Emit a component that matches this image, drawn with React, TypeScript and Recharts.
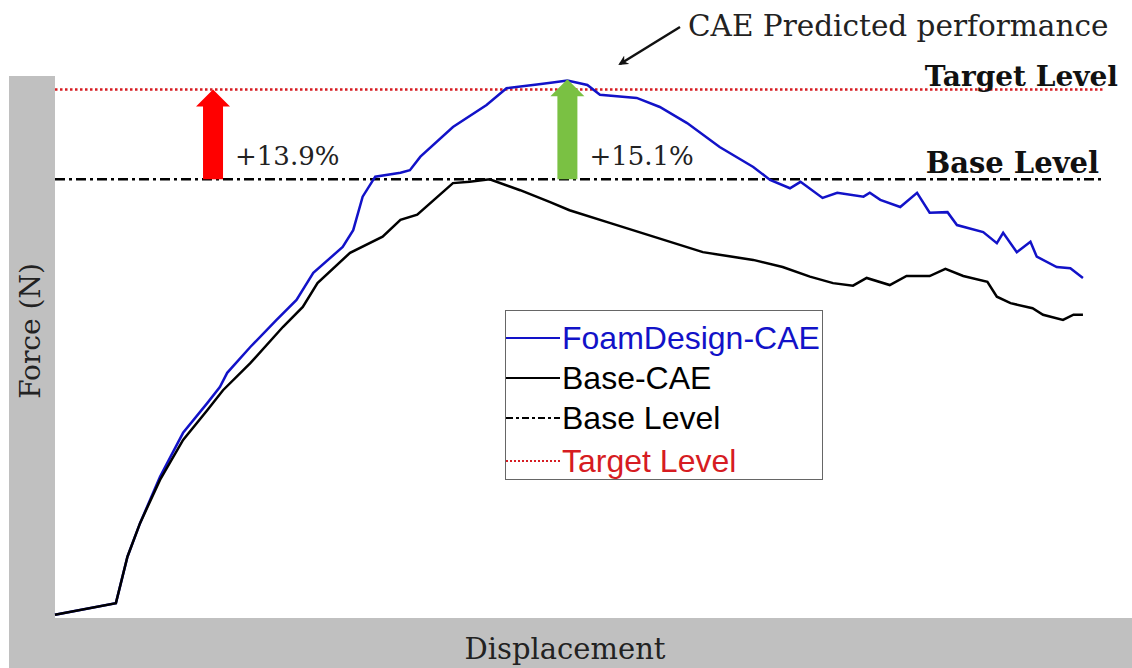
import { LineChart, Line, XAxis, YAxis, ReferenceLine, Legend } from "recharts";

// Base-CAE curve (displacement, force)
const baseDisp = [0, 5.8, 6.9, 8.1, 10.0, 12.2, 14.5, 16.0, 18.6, 21.7, 23.6, 25.0, 28.1, 31.2, 32.9, 34.5, 37.9, 39.5, 41.4, 44.3, 47.1, 49.0, 52.9, 57.0, 61.7, 66.5, 69.3, 71.9, 74.1, 76.0, 77.3, 79.5, 81.1, 83.3, 84.8, 86.5, 88.8, 89.7, 91.0, 93.1, 94.1, 96.0, 97.0, 97.9];
const baseForce = [32.5, 34.3, 41.5, 46.7, 53.4, 59.6, 64.2, 67.3, 71.5, 77.1, 80.2, 83.9, 88.6, 91.1, 93.7, 94.5, 99.4, 99.6, 100.0, 98.3, 96.5, 95.2, 93.2, 91.1, 88.7, 87.5, 86.4, 84.9, 83.9, 83.5, 84.7, 83.6, 85.0, 85.0, 86.1, 85.0, 84.1, 81.8, 80.8, 80.0, 79.0, 78.2, 79.0, 79.0];

// FoamDesign-CAE curve
const foamDisp = [0, 5.8, 6.9, 8.1, 10.0, 12.2, 14.5, 15.7, 16.4, 18.6, 21.1, 23.0, 24.6, 27.4, 28.4, 29.3, 30.5, 32.9, 33.8, 34.8, 37.9, 41.1, 43.0, 45.9, 47.4, 48.8, 50.7, 51.9, 55.4, 57.6, 60.2, 63.3, 66.5, 68.1, 70.0, 71.0, 73.1, 74.5, 77.0, 77.6, 78.6, 80.5, 82.1, 83.3, 85.0, 85.9, 88.4, 89.7, 90.3, 91.6, 92.9, 93.5, 95.4, 96.7, 97.9];
const foamForce = [32.5, 34.3, 41.5, 46.7, 53.9, 60.7, 65.3, 67.8, 70.0, 74.0, 78.2, 81.3, 85.5, 89.5, 92.1, 97.3, 100.4, 101.0, 101.4, 103.5, 108.1, 111.5, 114.1, 114.7, 115.0, 115.3, 114.6, 113.1, 112.6, 111.2, 108.7, 105.0, 101.9, 99.9, 98.6, 99.6, 97.1, 97.9, 97.3, 97.9, 96.8, 95.7, 97.9, 94.8, 94.9, 92.9, 91.8, 90.1, 91.7, 88.7, 90.3, 88.0, 86.4, 86.2, 84.7];

const baseLevel = 100;
const targetLevel = 113.9;

// improvement arrows: position, top value, label
const arrowX = [15.05, 48.8];
const arrowTop = [113.9, 115.5];
const arrowLabels = ["+13.9%", "+15.1%"];
const arrowColors = ["#ff0000", "#7ac143"];

const legendNames = ["FoamDesign-CAE", "Base-CAE", "Base Level", "Target Level"];

const BLUE = "#1212c8";
const RED = "#d61c22";
const SERIF = "'DejaVu Serif', serif";

const basePoints = baseDisp.map((x, i) => ({ x, y: baseForce[i] }));
const foamPoints = foamDisp.map((x, i) => ({ x, y: foamForce[i] }));

function ArrowShape(props: any) {
  const { x1, y1, x2, y2, color, text } = props;
  if (x1 == null) return null;
  const cx = (x1 + x2) / 2;
  const yb = Math.max(y1, y2);
  const yt = Math.min(y1, y2);
  const sw = 10;
  const hw = 17;
  const hh = 17;
  const pts = [
    [cx - sw, yb],
    [cx - sw, yt + hh],
    [cx - hw, yt + hh],
    [cx, yt],
    [cx + hw, yt + hh],
    [cx + sw, yt + hh],
    [cx + sw, yb],
  ]
    .map((p) => p.join(","))
    .join(" ");
  return (
    <g>
      <polygon points={pts} fill={color} />
      <text x={cx + 22} y={yb - 14} fontFamily={SERIF} fontSize={26} fill="#222">
        {text}
      </text>
    </g>
  );
}

function LegendSample({ idx }: { idx: number }) {
  const styles = [
    { stroke: BLUE, dash: undefined },
    { stroke: "#000", dash: undefined },
    { stroke: "#000", dash: "7 3 3 3" },
    { stroke: RED, dash: "2 2" },
  ];
  const s = styles[idx];
  return (
    <svg width={54} height={10} style={{ flex: "none" }}>
      <line x1={0} y1={5} x2={54} y2={5} stroke={s.stroke} strokeWidth={2} strokeDasharray={s.dash} />
    </svg>
  );
}

function renderLegend() {
  const textColors = [BLUE, "#000", "#000", RED];
  return (
    <div
      style={{
        width: 318,
        height: 170,
        border: "1.5px solid #666",
        background: "#fff",
        paddingTop: 7,
        boxSizing: "border-box",
        fontFamily: "'Liberation Sans', Arial, sans-serif",
        fontSize: 32,
      }}
    >
      {legendNames.map((n, i) => (
        <div key={n} style={{ display: "flex", alignItems: "center", height: 40, marginTop: i === 3 ? 3 : 0 }}>
          <LegendSample idx={i} />
          <span style={{ color: textColors[i], marginLeft: 2, lineHeight: "40px" }}>{n}</span>
        </div>
      ))}
    </div>
  );
}

export default function App() {
  return (
    <div style={{ position: "absolute", left: 0, top: 0, width: 1132, height: 668, background: "#fff", overflow: "hidden" }}>
      {/* gray axis bars */}
      <div style={{ position: "absolute", left: 9, top: 76, width: 46, height: 592, background: "#c0c0c0" }} />
      <div style={{ position: "absolute", left: 9, top: 618, width: 1123, height: 50, background: "#c0c0c0" }} />

      <div style={{ position: "absolute", left: 0, top: 0 }}>
        <LineChart width={1132} height={668} margin={{ top: 76, right: 27, bottom: 50, left: 55 }}>
          <XAxis type="number" dataKey="x" domain={[0, 100]} hide />
          <YAxis type="number" dataKey="y" domain={[32, 116]} hide />
          <ReferenceLine y={baseLevel} stroke="#000" strokeWidth={2.5} strokeDasharray="10 4 3 4" />
          <ReferenceLine y={targetLevel} stroke={RED} strokeWidth={2.5} strokeDasharray="2.5 2.5" />
          <Line
            data={foamPoints}
            dataKey="y"
            name="FoamDesign-CAE"
            type="linear"
            stroke={BLUE}
            strokeWidth={2.5}
            dot={false}
            isAnimationActive={false}
          />
          <Line
            data={basePoints}
            dataKey="y"
            name="Base-CAE"
            type="linear"
            stroke="#000"
            strokeWidth={2.5}
            dot={false}
            isAnimationActive={false}
          />
          {arrowX.map((x, i) => (
            <ReferenceLine
              key={arrowLabels[i]}
              segment={[
                { x, y: baseLevel },
                { x, y: arrowTop[i] },
              ]}
              shape={(p: any) => <ArrowShape {...p} color={arrowColors[i]} text={arrowLabels[i]} />}
            />
          ))}
          <Legend
            content={renderLegend}
            layout="horizontal"
            verticalAlign="middle"
            align="center"
            wrapperStyle={{ left: 505, top: 310, width: 320, height: 172 }}
          />
        </LineChart>
      </div>

      {/* annotations */}
      <svg width={1132} height={668} style={{ position: "absolute", left: 0, top: 0, pointerEvents: "none" }}>
        <defs>
          <marker id="ptr" markerWidth={10} markerHeight={10} refX={8} refY={5} orient="auto" markerUnits="userSpaceOnUse">
            <path d="M0,0 L10,5 L0,10 L3,5 Z" fill="#111" />
          </marker>
        </defs>
        <line x1={680} y1={27} x2={620} y2={64} stroke="#111" strokeWidth={2.5} markerEnd="url(#ptr)" />
        <text x={688} y={36} fontFamily={SERIF} fontSize={29.5} fill="#222">
          CAE Predicted performance
        </text>
        <text x={1118} y={86} textAnchor="end" fontFamily={SERIF} fontWeight="bold" fontSize={28} fill="#111">
          Target Level
        </text>
        <text x={1099} y={173} textAnchor="end" fontFamily={SERIF} fontWeight="bold" fontSize={29} fill="#111">
          Base Level
        </text>
        <text
          x={30}
          y={331}
          transform="rotate(-90 30 331)"
          textAnchor="middle"
          dominantBaseline="central"
          fontFamily={SERIF}
          fontSize={28}
          fill="#222"
        >
          Force (N)
        </text>
        <text x={565} y={659} textAnchor="middle" fontFamily={SERIF} fontSize={29} fill="#222">
          Displacement
        </text>
      </svg>
    </div>
  );
}
